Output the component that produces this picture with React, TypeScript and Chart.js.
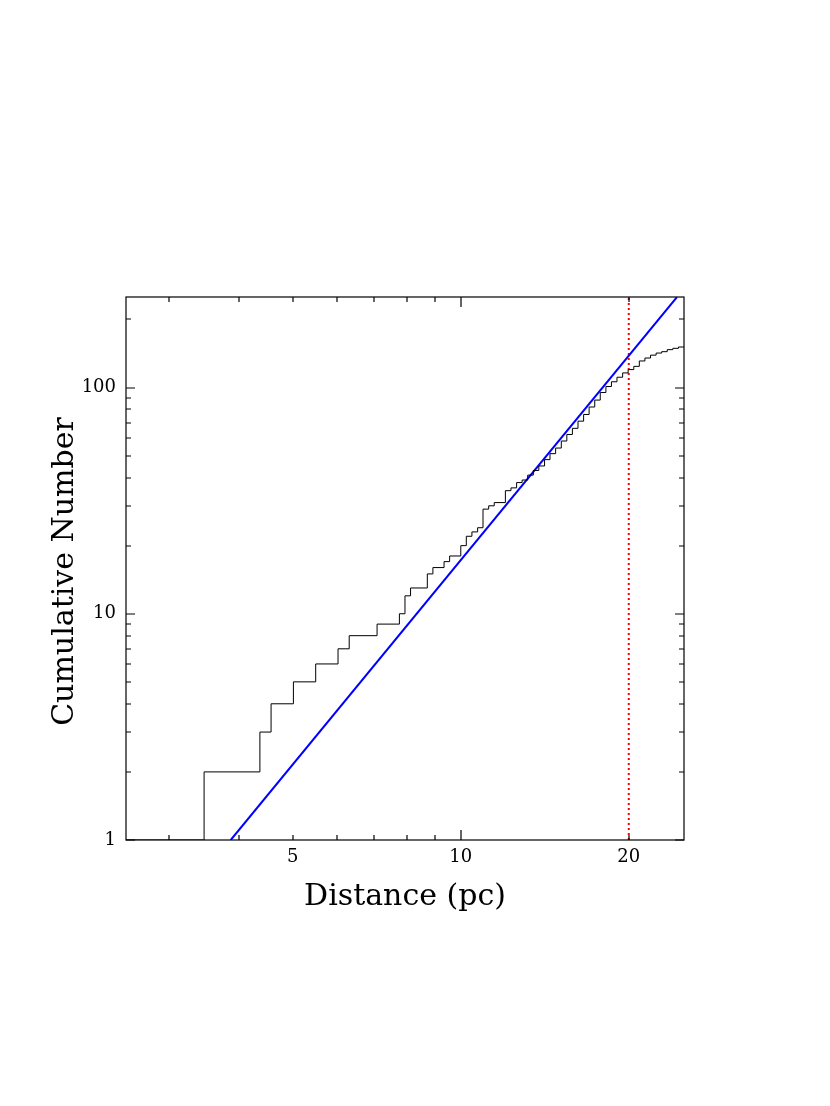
import React, { useEffect, useRef } from 'react';
import { Chart, registerables } from 'chart.js';

Chart.register(...registerables);

// Cumulative histogram (distance in pc where the count steps up, count after the step)
const stepDistance = [
  2.512, 3.467, 4.365, 4.571, 5.012, 5.495, 6.026, 6.31, 7.079, 7.762,
  7.943, 8.128, 8.71, 8.913, 9.333, 9.55, 10.0, 10.23, 10.47, 10.72,
  10.96, 11.22, 11.48, 12.02, 12.3, 12.59, 12.88, 13.18, 13.49, 13.8,
  14.13, 14.45, 14.79, 15.14, 15.49, 15.85, 16.22, 16.6, 16.98, 17.38,
  17.78, 18.2, 18.62, 19.05, 19.5, 19.95, 20.42, 20.89, 21.38, 21.88,
  22.39, 22.91, 23.44, 23.99, 24.55, 25.12,
];
const cumulativeCount = [
  1, 2, 3, 4, 5, 6, 7, 8, 9, 10,
  12, 13, 15, 16, 17, 18, 20, 22, 23, 24,
  29, 30, 31, 35, 36, 38, 39, 41, 43, 45,
  48, 51, 54, 58, 62, 66, 71, 76, 82, 88,
  95, 101, 106, 111, 116, 120, 124, 131, 135, 139,
  142, 144, 147, 149, 151, 151,
];

// Power-law (N ∝ d^3) reference line end points
const fitDistance = [3.87, 24.4];
const fitCount = [1, 251];

// Completeness limit at 20 pc
const limitDistance = [20, 20];
const limitCount = [1, 251.2];

const xMin = 2.512;
const xMax = 25.12;
const yMin = 1;
const yMax = 251.2;

const xTickValues = [3, 4, 5, 6, 7, 8, 9, 10, 20];
const xMajorTicks = [10];
const xTickLabels = [5, 10, 20];
const yTickValues = [1, 2, 3, 4, 5, 6, 7, 8, 9, 10, 20, 30, 40, 50, 60, 70, 80, 90, 100, 200];
const yMajorTicks = [1, 10, 100];
const yTickLabels = [1, 10, 100];

const xTitle = 'Distance (pc)';
const yTitle = 'Cumulative Number';

const FONT = '"DejaVu Serif", serif';

const framePlugin = {
  id: 'frameTicks',
  afterDatasetsDraw(chart: any) {
    const { ctx, chartArea: a, scales } = chart;
    const xs = scales.x;
    const ys = scales.y;
    ctx.save();
    ctx.strokeStyle = '#000';
    ctx.lineWidth = 1.2;
    ctx.beginPath();
    for (const v of xTickValues) {
      const px = Math.round(xs.getPixelForValue(v));
      const len = xMajorTicks.includes(v) ? 10 : 5;
      ctx.moveTo(px, a.bottom);
      ctx.lineTo(px, a.bottom - len);
      ctx.moveTo(px, a.top);
      ctx.lineTo(px, a.top + len);
    }
    for (const v of yTickValues) {
      const py = Math.round(ys.getPixelForValue(v));
      const len = yMajorTicks.includes(v) ? 9 : 5;
      ctx.moveTo(a.left, py);
      ctx.lineTo(a.left + len, py);
      ctx.moveTo(a.right, py);
      ctx.lineTo(a.right - len, py);
    }
    ctx.stroke();
    ctx.strokeRect(a.left, a.top, a.right - a.left, a.bottom - a.top);

    ctx.fillStyle = '#000';
    ctx.font = `30px ${FONT}`;
    ctx.textAlign = 'center';
    ctx.textBaseline = 'alphabetic';
    ctx.fillText(xTitle, (a.left + a.right) / 2, 905);
    ctx.save();
    ctx.translate(73, (a.top + a.bottom) / 2 + 3);
    ctx.rotate(-Math.PI / 2);
    ctx.fillText(yTitle, 0, 0);
    ctx.restore();
    ctx.restore();
  },
};

export default function App() {
  const canvasRef = useRef<HTMLCanvasElement | null>(null);

  useEffect(() => {
    if (!canvasRef.current) return;
    const stairs = stepDistance.map((d, i) => ({ x: d, y: cumulativeCount[i] }));
    const fit = fitDistance.map((d, i) => ({ x: d, y: fitCount[i] }));
    const limit = limitDistance.map((d, i) => ({ x: d, y: limitCount[i] }));

    const chart = new Chart(canvasRef.current, {
      type: 'line',
      data: {
        datasets: [
          {
            label: 'Cumulative',
            data: stairs,
            stepped: 'before',
            borderColor: '#000000',
            borderWidth: 1,
            pointRadius: 0,
            fill: false,
          },
          {
            label: 'Fit',
            data: fit,
            borderColor: '#0000ff',
            borderWidth: 2,
            pointRadius: 0,
            fill: false,
          },
          {
            label: 'Limit',
            data: limit,
            borderColor: '#ff0000',
            borderWidth: 2,
            borderDash: [2, 3],
            pointRadius: 0,
            fill: false,
          },
        ],
      },
      options: {
        animation: false,
        responsive: false,
        devicePixelRatio: 1,
        layout: { padding: { left: 30, right: 146, top: 297, bottom: 186 } },
        plugins: {
          legend: { display: false },
          tooltip: { enabled: false },
          title: { display: false },
        },
        events: [],
        scales: {
          x: {
            type: 'logarithmic',
            position: 'bottom',
            min: xMin,
            max: xMax,
            grid: { display: false, drawTicks: false },
            border: { display: false },
            afterBuildTicks: (scale: any) => {
              scale.ticks = xTickValues.map((v) => ({ value: v }));
            },
            afterFit: (scale: any) => {
              scale.height = 80;
            },
            ticks: {
              autoSkip: false,
              maxRotation: 0,
              minRotation: 0,
              padding: 7,
              color: '#000',
              font: { family: FONT, size: 18 },
              callback: (v: any) => (xTickLabels.includes(Number(v)) ? String(v) : ''),
            },
          },
          y: {
            type: 'logarithmic',
            position: 'left',
            min: yMin,
            max: yMax,
            grid: { display: false, drawTicks: false },
            border: { display: false },
            afterBuildTicks: (scale: any) => {
              scale.ticks = yTickValues.map((v) => ({ value: v }));
            },
            afterFit: (scale: any) => {
              scale.width = 96;
            },
            ticks: {
              autoSkip: false,
              padding: 10,
              color: '#000',
              font: { family: FONT, size: 18 },
              callback: (v: any) => (yTickLabels.includes(Number(v)) ? String(v) : ''),
            },
          },
        },
      },
      plugins: [framePlugin],
    } as any);

    return () => chart.destroy();
  }, []);

  return (
    <div style={{ position: 'absolute', left: 0, top: 0, width: 830, height: 1106, background: '#fff' }}>
      <canvas ref={canvasRef} width={830} height={1106} style={{ display: 'block' }} />
    </div>
  );
}
